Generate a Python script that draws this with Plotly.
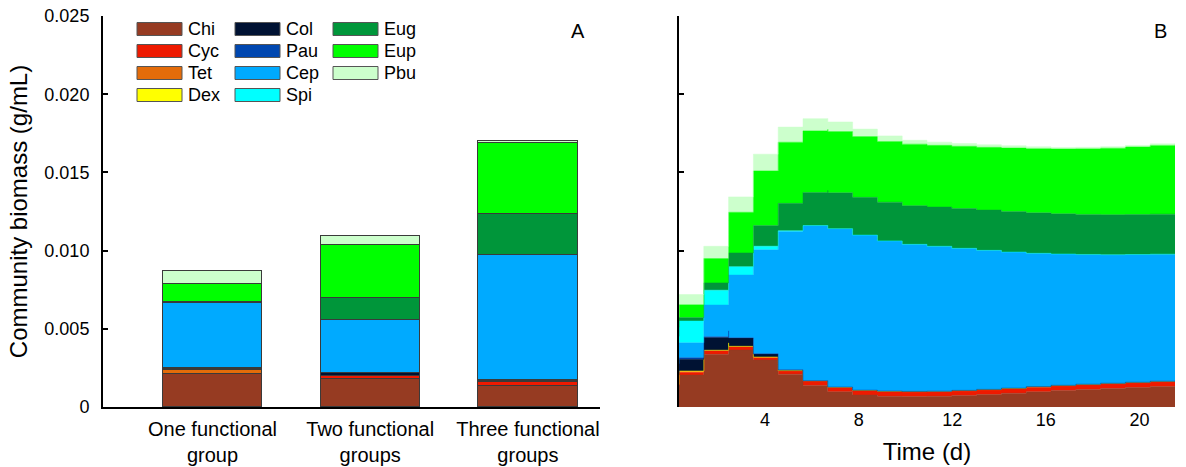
import plotly.graph_objects as go

# The page body margin is removed (post_script below), so figure pixels
# coincide with window pixels.
W, H = 1186, 467


def fx(px):
    return px / W


def fy(py):
    return 1 - py / H


# ---------------- data ----------------
species = ["Chi", "Cyc", "Tet", "Dex", "Col", "Pau", "Cep", "Spi", "Eug", "Eup", "Pbu"]
colors = ["#963B22", "#EE1A00", "#E46C0A", "#FFFF00", "#001233", "#0047B0",
          "#00AAFF", "#00FFFF", "#00963A", "#00FF00", "#CCFFCC"]

# Panel A: community biomass (g/mL) per treatment
group_pos = [1, 2, 3]
group_labels = ["One functional<br>group", "Two functional<br>groups", "Three functional<br>groups"]
a_chi = [0.00211, 0.00177, 0.00134]
a_cyc = [0.00003, 0.00020, 0.00026]
a_tet = [0.00020, 0.00002, 0.00002]
a_dex = [0.00001, 0.00001, 0.00001]
a_col = [0.00010, 0.00015, 0.00003]
a_pau = [0.00002, 0.00002, 0.00005]
a_cep = [0.00420, 0.00340, 0.00800]
a_spi = [0.00000, 0.00000, 0.00000]
a_eug = [0.00004, 0.00139, 0.00262]
a_eup = [0.00113, 0.00340, 0.00454]
a_pbu = [0.00083, 0.00058, 0.00013]

# Panel B: biomass over time (d), three functional groups
days = [0.32, 1.38, 2.44, 3.50, 4.56, 5.62, 6.68, 7.74, 8.80, 9.86, 10.92,
        11.98, 13.04, 14.10, 15.16, 16.22, 17.28, 18.34, 19.40, 20.46, 21.52]
b_chi = [0.00121, 0.00288, 0.00386, 0.00343, 0.00258, 0.00162, 0.00113, 0.00083, 0.00070, 0.00067, 0.00067,
         0.00070, 0.00077, 0.00083, 0.00093, 0.00102, 0.00109, 0.00115, 0.00121, 0.00128, 0.00134]
b_cyc = [0.00015, 0.00022, 0.00022, 0.00021, 0.00013, 0.00028, 0.00028, 0.00026, 0.00030, 0.00029, 0.00029,
         0.00029, 0.00029, 0.00029, 0.00029, 0.00029, 0.00030, 0.00030, 0.00030, 0.00030, 0.00030]
b_tet = [0.00004, 0.00003, 0.00001, 0.00001, 0.00001, 0.00001, 0.00001, 0.00001, 0.00001, 0.00001, 0.00001,
         0.00001, 0.00001, 0.00001, 0.00001, 0.00001, 0.00001, 0.00001, 0.00001, 0.00001, 0.00001]
b_dex = [0.00004, 0.00003, 0.00001, 0.00001, 0.00001, 0.00002, 0.00002, 0.00002, 0.00003, 0.00003, 0.00003,
         0.00003, 0.00003, 0.00003, 0.00003, 0.00003, 0.00003, 0.00003, 0.00003, 0.00003, 0.00003]
b_col = [0.00060, 0.00090, 0.00074, 0.00032, 0.00010, 0.0, 0.0, 0.0, 0.0, 0.0, 0.0,
         0.0, 0.0, 0.0, 0.0, 0.0, 0.0, 0.0, 0.0, 0.0, 0.0]
b_pau = [0.00015, 0.00006, 0.00003, 0.0, 0.0, 0.0, 0.0, 0.0, 0.0, 0.0, 0.0,
         0.0, 0.0, 0.0, 0.0, 0.0, 0.0, 0.0, 0.0, 0.0, 0.0]
b_cep = [0.00058, 0.00132, 0.00273, 0.00529, 0.00800, 0.00967, 0.01017, 0.01008, 0.00974, 0.00946, 0.00934,
         0.00918, 0.00898, 0.00879, 0.00860, 0.00844, 0.00834, 0.00825, 0.00818, 0.00815, 0.00809]
b_spi = [0.00160, 0.00118, 0.00072, 0.00036, 0.00010, 0.0, 0.0, 0.0, 0.0, 0.0, 0.0,
         0.0, 0.0, 0.0, 0.0, 0.0, 0.0, 0.0, 0.0, 0.0, 0.0]
b_eug = [0.00015, 0.00029, 0.00064, 0.00111, 0.00153, 0.00198, 0.00224, 0.00234, 0.00249, 0.00246, 0.00249,
         0.00253, 0.00256, 0.00259, 0.00259, 0.00259, 0.00256, 0.00256, 0.00256, 0.00256, 0.00256]
b_eup = [0.00058, 0.00107, 0.00205, 0.00315, 0.00384, 0.00398, 0.00390, 0.00393, 0.00384, 0.00393, 0.00393,
         0.00396, 0.00400, 0.00403, 0.00409, 0.00412, 0.00416, 0.00422, 0.00428, 0.00435, 0.00444]
b_pbu = [0.00064, 0.00066, 0.00090, 0.00107, 0.00107, 0.00086, 0.00070, 0.00053, 0.00043, 0.00028, 0.00022,
         0.00019, 0.00016, 0.00016, 0.00013, 0.00010, 0.00010, 0.00010, 0.00010, 0.00010, 0.00010]

y_ticks = [0, 0.005, 0.010, 0.015, 0.020, 0.025]
y_ticktext = ["0", "0.005", "0.010", "0.015", "0.020", "0.025"]
time_ticks = [4, 8, 12, 16, 20]

a_vals = [a_chi, a_cyc, a_tet, a_dex, a_col, a_pau, a_cep, a_spi, a_eug, a_eup, a_pbu]
b_vals = [b_chi, b_cyc, b_tet, b_dex, b_col, b_pau, b_cep, b_spi, b_eug, b_eup, b_pbu]

FONT = "Liberation Sans, Arial, Helvetica, sans-serif"

fig = go.Figure()

for name, col, av in zip(species, colors, a_vals):
    fig.add_trace(go.Bar(
        x=group_pos, y=av, name=name, width=0.63,
        marker=dict(color=col, line=dict(color="#3a3a3a", width=1)),
        xaxis="x", yaxis="y", showlegend=False,
    ))

for name, col, bv in zip(species, colors, b_vals):
    fig.add_trace(go.Scatter(
        x=days, y=bv, name=name, mode="lines", stackgroup="b",
        line=dict(shape="vhv", width=0.5, color=col), fillcolor=col,
        xaxis="x2", yaxis="y2", showlegend=False,
    ))

ydom = [fy(407), fy(16)]
fig.update_layout(
    width=W, height=H,
    margin=dict(l=0, r=0, t=0, b=0),
    paper_bgcolor="white", plot_bgcolor="white",
    barmode="stack", bargap=0,
    font=dict(family=FONT, color="black", size=16),
    xaxis=dict(domain=[fx(103), fx(600)], range=[0.306, 3.457], automargin=False,
               tickvals=group_pos, ticktext=group_labels, ticks="", ticklabelstandoff=3,
               ticklabeloverflow="allow",
               showline=True, linecolor="black", linewidth=2, showgrid=False,
               zeroline=False, tickfont=dict(size=20)),
    yaxis=dict(domain=ydom, range=[0, 0.025], tickvals=y_ticks, ticktext=y_ticktext,
               automargin=False, ticklabelstandoff=8, ticklabeloverflow="allow",
               ticks="inside", ticklen=5, tickwidth=2, tickcolor="black",
               showline=True, linecolor="black", linewidth=2, showgrid=False, zeroline=False,
               tickfont=dict(size=18),
               title=dict(text="Community biomass (g/mL)", font=dict(size=24), standoff=10)),
    xaxis2=dict(domain=[fx(679), fx(1175)], range=[days[0], days[-1]], automargin=False,
                tickvals=time_ticks, ticks="", showline=False, showgrid=False, zeroline=False,
                ticklabeloverflow="allow", tickfont=dict(size=18),
                title=dict(text="Time (d)", font=dict(size=24), standoff=14)),
    yaxis2=dict(domain=ydom, anchor="x2", range=[0, 0.025], tickvals=y_ticks[2:],
                automargin=False,
                showticklabels=False, ticks="inside", ticklen=5, tickwidth=2, tickcolor="black",
                showline=True, linecolor="black", linewidth=2, showgrid=False, zeroline=False),
)

# Manual legend (wide swatches, 3 columns x 4 rows, column-major order)
shapes = []
annotations = []
sw_x0, sw_w, col_pitch = 137, 45, 98
row_y0, row_pitch, sw_h = 29, 22, 13
for i, (name, col) in enumerate(zip(species, colors)):
    c, r = i // 4, i % 4
    x0 = sw_x0 + c * col_pitch
    yc = row_y0 + r * row_pitch
    shapes.append(dict(type="rect", xref="paper", yref="paper",
                       x0=fx(x0), x1=fx(x0 + sw_w),
                       y0=fy(yc + sw_h / 2), y1=fy(yc - sw_h / 2),
                       fillcolor=col, line=dict(color="#555555", width=1)))
    annotations.append(dict(text=name, xref="paper", yref="paper",
                            x=fx(x0 + sw_w + 4), y=fy(yc),
                            xanchor="left", yanchor="middle", showarrow=False,
                            font=dict(size=18)))

annotations.append(dict(text="A", xref="paper", yref="paper", x=fx(578), y=fy(31),
                        xanchor="center", yanchor="middle", showarrow=False, font=dict(size=20)))
annotations.append(dict(text="B", xref="paper", yref="paper", x=fx(1160), y=fy(31),
                        xanchor="center", yanchor="middle", showarrow=False, font=dict(size=20)))

fig.update_layout(shapes=shapes, annotations=annotations)

fig.write_html("out.html",
               config={"displayModeBar": False},
               post_script="document.body.style.margin='0px';document.body.style.overflow='hidden';")
